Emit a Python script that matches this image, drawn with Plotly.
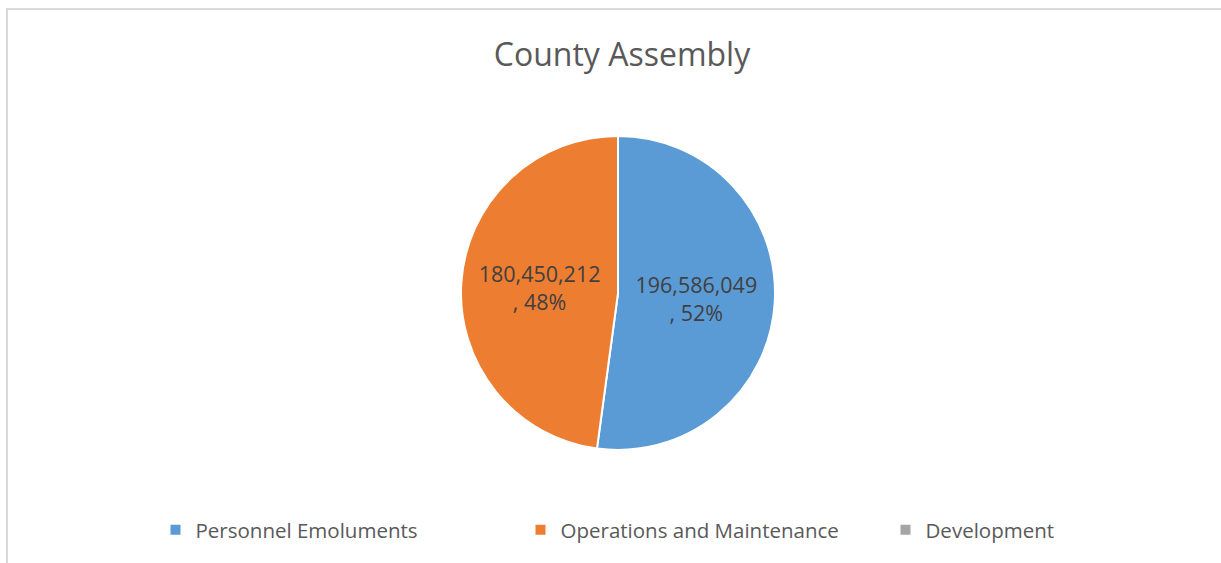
import plotly.graph_objects as go

labels = ["Personnel Emoluments", "Operations and Maintenance", "Development"]
values = [196586049, 180450212, 0]
colors = ["#5B9BD5", "#ED7D31", "#A5A5A5"]
label_templates = ["%{value:,}<br>, %{percent:.0%}", "%{value:,}<br>, %{percent:.0%}", ""]
title_text = "County Assembly"

W, H = 1221, 563
cx, cy, r = 618, 293, 157

fig = go.Figure(go.Pie(
    labels=labels,
    values=values,
    sort=False,
    direction="clockwise",
    rotation=0,
    marker=dict(colors=colors, line=dict(color="white", width=2)),
    texttemplate=label_templates,
    textposition="inside",
    insidetextorientation="horizontal",
    textfont=dict(family="Open Sans", size=21.5, color="#404040"),
    domain=dict(x=[(cx - r) / W, (cx + r) / W], y=[(H - cy - r) / H, (H - cy + r) / H]),
    hoverinfo="label+value+percent",
))

fig.update_layout(
    width=W, height=H,
    margin=dict(l=0, r=0, t=0, b=0, autoexpand=False),
    paper_bgcolor="white",
    plot_bgcolor="white",
    font=dict(family="Open Sans", color="#595959"),
    title=dict(text=title_text, x=622 / W, xanchor="center", y=1 - 55 / H, yanchor="middle",
               font=dict(family="Open Sans", size=32, color="#595959")),
    showlegend=True,
    legend=dict(orientation="h", x=703 / W, xanchor="center", y=1 - 530 / H, yanchor="middle",
                font=dict(family="Open Sans", size=20.5, color="#595959"),
                entrywidth=320, entrywidthmode="pixels", itemwidth=30,
                bgcolor="rgba(0,0,0,0)"),
    shapes=[dict(type="rect", xref="paper", yref="paper",
                 x0=7 / W, x1=1.02, y0=-0.02, y1=1 - 9 / H,
                 line=dict(color="#D9D9D9", width=2), fillcolor="rgba(0,0,0,0)", layer="below")],
)

fig.write_html("out.html")
